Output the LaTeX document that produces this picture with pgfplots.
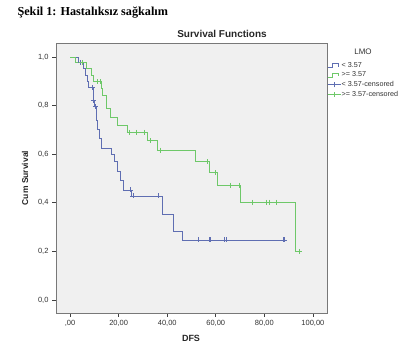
\documentclass[border=0pt]{standalone}
\usepackage{pgfplots}
\pgfplotsset{compat=1.18}
\usepackage{fontspec}
\setmainfont{Liberation Sans}
\newfontfamily\titlefont{Liberation Serif}
\definecolor{bluek}{RGB}{95,110,178}
\definecolor{greenk}{RGB}{110,200,105}
\definecolor{bgk}{RGB}{240,240,240}
\definecolor{framek}{RGB}{120,120,120}
\begin{document}
\begin{tikzpicture}
\useasboundingbox (0,0) rectangle (410bp,357bp);
\begin{axis}[
  at={(56bp,44bp)}, anchor=south west,
  width=271bp, height=270bp, scale only axis,
  xmin=-5.8, xmax=105.8, ymin=-0.0535, ymax=1.0576,
  axis background/.style={fill=bgk},
  axis line style={draw=framek, line width=0.8bp},
  xtick={0,20,40,60,80,100},
  xticklabels={{,00},{20,00},{40,00},{60,00},{80,00},{100,00}},
  ytick={0,0.2,0.4,0.6,0.8,1},
  yticklabels={{0,0},{0,2},{0,4},{0,6},{0,8},{1,0}},
  tick align=outside, tick pos=left,
  major tick length=4bp,
  tick style={draw=black!75, line width=0.6bp},
  ticklabel style={font=\fontsize{7.5bp}{8bp}\selectfont, text=black!80},
  /pgf/number format/assume math mode=true,
  legend cell align=left,
  legend style={at={(1.0,0.932)}, anchor=north west, draw=none, fill=none,
    inner sep=0pt, row sep=1.4bp, font=\fontsize{7.2bp}{8bp}\selectfont,
    nodes={inner sep=0.8bp, text=black!80}},
]
\addplot[const plot, color=bluek, line width=0.8bp,
  legend image code/.code={\draw[bluek, line width=0.7bp] (0bp,-2bp) -- (5bp,-2bp) -- (5bp,2bp) -- (11bp,2bp) -- (11bp,-1bp);}]
coordinates {
(0,1.0) (3.4,0.977) (5.5,0.953) (6.2,0.926) (7.0,0.900) (7.6,0.874)
(9.4,0.822) (10.2,0.795) (10.9,0.740) (11.4,0.700) (12.0,0.667)
(13.1,0.625) (17.1,0.600) (18.4,0.569) (19.6,0.528) (20.6,0.494)
(21.9,0.453) (25.2,0.428) (38.2,0.354) (42.7,0.284) (46.1,0.247)
(88.4,0.247)
};
\addlegendentry{< 3.57}
\addplot[const plot, color=greenk, line width=0.8bp,
  legend image code/.code={\draw[greenk, line width=0.7bp] (0bp,-2bp) -- (5bp,-2bp) -- (5bp,2bp) -- (11bp,2bp) -- (11bp,-1bp);}]
coordinates {
(0,1.0) (2.1,0.977) (6.9,0.953) (8.9,0.926) (9.8,0.898) (12.8,0.870)
(13.4,0.844) (14.8,0.789) (16.5,0.750) (19.6,0.720) (23.7,0.690)
(31.8,0.656) (35.9,0.617) (51.4,0.569) (57.3,0.524) (60.8,0.472)
(70.0,0.402) (92.9,0.200) (94.4,0.200)
};
\addlegendentry{>= 3.57}
\addplot[only marks, mark=+, mark size=2.5bp, color=bluek, mark options={line width=0.7bp},
  legend image code/.code={\draw[bluek, line width=0.7bp] (0bp,0bp) -- (13bp,0bp); \draw[bluek, line width=0.7bp] (6.5bp,-2.5bp) -- (6.5bp,2.5bp);}]
coordinates {
(4.4,0.977) (9.1,0.874) (9.6,0.822) (10.4,0.795) (24.7,0.453)
(25.9,0.428) (36.2,0.428) (52.9,0.247) (57.3,0.247) (57.8,0.247)
(63.6,0.247) (64.4,0.247) (87.7,0.247) (88.4,0.247)
};
\addlegendentry{< 3.57-censored}
\addplot[only marks, mark=+, mark size=2.5bp, color=greenk, mark options={line width=0.7bp},
  legend image code/.code={\draw[greenk, line width=0.7bp] (0bp,0bp) -- (13bp,0bp); \draw[greenk, line width=0.7bp] (6.5bp,-2.5bp) -- (6.5bp,2.5bp);}]
coordinates {
(4.9,0.977) (11.1,0.898) (12.3,0.898) (24.3,0.690) (27.2,0.690)
(30.4,0.690) (32.9,0.656) (37.0,0.617) (56.6,0.569) (59.9,0.524)
(66.2,0.472) (69.5,0.472) (75.2,0.402) (80.9,0.402) (81.9,0.402)
(85.0,0.402) (94.4,0.200)
};
\addlegendentry{>= 3.57-censored}
\end{axis}
\node[anchor=west, font=\titlefont\bfseries\fontsize{12.2bp}{14bp}\selectfont] at (14bp,344bp) {Şekil 1: Hastalıksız sağkalım};
\node[font=\bfseries\fontsize{10bp}{12bp}\selectfont, text=black!85] at (222bp,323bp) {Survival Functions};
\node[font=\fontsize{8bp}{9bp}\selectfont, text=black!80] at (363bp,305bp) {LMO};
\node[rotate=90, font=\bfseries\fontsize{8.5bp}{10bp}\selectfont, text=black!85] at (25bp,179bp) {Cum Survival};
\node[font=\bfseries\fontsize{9bp}{10bp}\selectfont, text=black!85] at (191bp,19bp) {DFS};
\end{tikzpicture}
\end{document}
